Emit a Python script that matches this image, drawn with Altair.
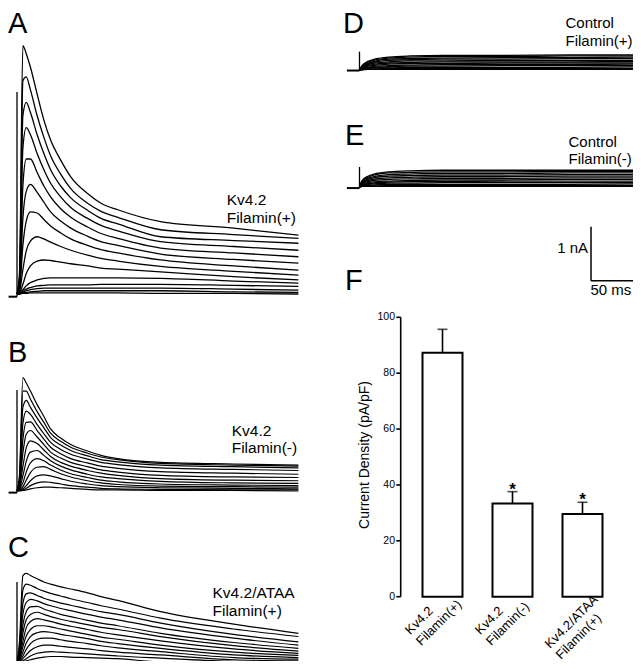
import altair as alt
import pandas as pd

FONT = "Liberation Sans"
OFF = 8          # page margin: image px -> chart px
PX_PER_NA = 54   # vertical trace scale (1 nA)
PX_PER_MS = 0.84 # horizontal trace scale (50 ms = 42 px)

# ---------------- data ----------------
# time grid (ms) for panels A-C
T_ABC = [0, 3, 7, 11, 16, 24, 32, 40, 52, 64, 84, 100, 120, 171, 258, 335]
# currents (nA)
A_TRACES = [
    [0, 0.40, 4.60, 4.45, 4.20, 3.70, 3.22, 2.85, 2.48, 2.17, 1.86, 1.68, 1.56, 1.34, 1.22, 1.09],
    [0, 0.30, 3.95, 4.02, 3.78, 3.30, 2.90, 2.56, 2.22, 1.95, 1.68, 1.53, 1.42, 1.19, 1.10, 1.03],
    [0, 0.25, 3.30, 3.55, 3.36, 2.95, 2.60, 2.30, 2.00, 1.78, 1.55, 1.40, 1.30, 1.06, 0.99, 0.94],
    [0, 0.20, 2.70, 3.08, 2.95, 2.60, 2.30, 2.05, 1.80, 1.60, 1.40, 1.27, 1.17, 0.97, 0.88, 0.81],
    [0, 0.15, 2.00, 2.50, 2.50, 2.25, 2.00, 1.80, 1.58, 1.42, 1.24, 1.12, 1.03, 0.85, 0.76, 0.69],
    [0, 0.10, 1.40, 1.90, 2.03, 1.88, 1.70, 1.52, 1.35, 1.22, 1.07, 0.97, 0.90, 0.74, 0.64, 0.57],
    [0, 0.08, 0.90, 1.35, 1.52, 1.50, 1.38, 1.26, 1.13, 1.02, 0.90, 0.82, 0.76, 0.63, 0.52, 0.44],
    [0, 0.05, 0.45, 0.80, 0.98, 1.06, 1.02, 0.96, 0.88, 0.81, 0.72, 0.66, 0.61, 0.51, 0.42, 0.35],
    [0, 0.03, 0.18, 0.38, 0.52, 0.61, 0.63, 0.62, 0.59, 0.56, 0.52, 0.48, 0.46, 0.41, 0.32, 0.26],
    [0, 0.02, 0.08, 0.15, 0.21, 0.26, 0.29, 0.30, 0.30, 0.30, 0.30, 0.30, 0.30, 0.29, 0.24, 0.20],
    [0, 0.01, 0.05, 0.09, 0.12, 0.15, 0.16, 0.17, 0.17, 0.17, 0.17, 0.18, 0.18, 0.18, 0.16, 0.14],
    [0, 0.01, 0.03, 0.06, 0.08, 0.10, 0.11, 0.11, 0.11, 0.11, 0.11, 0.11, 0.11, 0.11, 0.09, 0.07],
    [0, 0.00, 0.02, 0.03, 0.04, 0.05, 0.06, 0.06, 0.06, 0.06, 0.06, 0.06, 0.06, 0.06, 0.04, 0.03],
    [0, 0.00, 0.01, 0.01, 0.02, 0.02, 0.02, 0.02, 0.02, 0.02, 0.02, 0.02, 0.02, 0.01, 0.01, 0.00],
]
B_TRACES = [
    [0, 0.30, 2.10, 2.00, 1.85, 1.60, 1.38, 1.15, 0.98, 0.86, 0.74, 0.66, 0.60, 0.53, 0.50, 0.48],
    [0, 0.25, 1.85, 1.85, 1.70, 1.47, 1.27, 1.07, 0.92, 0.81, 0.70, 0.63, 0.58, 0.51, 0.48, 0.46],
    [0, 0.20, 1.55, 1.68, 1.55, 1.35, 1.17, 0.99, 0.85, 0.75, 0.65, 0.58, 0.54, 0.48, 0.45, 0.43],
    [0, 0.15, 1.25, 1.48, 1.42, 1.23, 1.06, 0.90, 0.77, 0.68, 0.59, 0.53, 0.49, 0.43, 0.40, 0.38],
    [0, 0.12, 0.95, 1.27, 1.28, 1.12, 0.96, 0.81, 0.69, 0.60, 0.52, 0.46, 0.42, 0.36, 0.33, 0.31],
    [0, 0.10, 0.70, 1.05, 1.12, 1.00, 0.86, 0.72, 0.61, 0.53, 0.45, 0.39, 0.35, 0.29, 0.26, 0.25],
    [0, 0.08, 0.45, 0.80, 0.93, 0.88, 0.76, 0.64, 0.53, 0.46, 0.38, 0.33, 0.29, 0.23, 0.20, 0.19],
    [0, 0.05, 0.28, 0.55, 0.72, 0.75, 0.66, 0.56, 0.46, 0.39, 0.31, 0.26, 0.23, 0.18, 0.15, 0.14],
    [0, 0.04, 0.15, 0.35, 0.52, 0.60, 0.56, 0.48, 0.39, 0.32, 0.25, 0.20, 0.17, 0.13, 0.11, 0.10],
    [0, 0.03, 0.08, 0.20, 0.34, 0.44, 0.45, 0.40, 0.32, 0.26, 0.19, 0.15, 0.12, 0.09, 0.08, 0.07],
    [0, 0.02, 0.04, 0.10, 0.19, 0.28, 0.30, 0.28, 0.23, 0.18, 0.13, 0.10, 0.08, 0.06, 0.05, 0.04],
    [0, 0.01, 0.02, 0.05, 0.10, 0.15, 0.17, 0.16, 0.13, 0.10, 0.07, 0.05, 0.04, 0.03, 0.02, 0.02],
    [0, 0.00, 0.01, 0.02, 0.04, 0.06, 0.07, 0.07, 0.06, 0.05, 0.03, 0.02, 0.02, 0.01, 0.01, 0.00],
]
C_TRACES = [
    [0, 0.40, 1.62, 1.66, 1.62, 1.56, 1.50, 1.46, 1.41, 1.37, 1.30, 1.23, 1.16, 0.95, 0.72, 0.55],
    [0, 0.30, 1.35, 1.46, 1.44, 1.38, 1.33, 1.29, 1.24, 1.19, 1.12, 1.06, 1.00, 0.83, 0.63, 0.49],
    [0, 0.25, 1.10, 1.28, 1.30, 1.25, 1.20, 1.16, 1.11, 1.07, 1.00, 0.95, 0.90, 0.74, 0.53, 0.39],
    [0, 0.20, 0.90, 1.12, 1.18, 1.15, 1.10, 1.06, 1.01, 0.97, 0.90, 0.85, 0.80, 0.65, 0.46, 0.33],
    [0, 0.15, 0.70, 0.95, 1.04, 1.05, 1.00, 0.96, 0.90, 0.86, 0.79, 0.74, 0.69, 0.55, 0.38, 0.27],
    [0, 0.12, 0.55, 0.80, 0.90, 0.94, 0.90, 0.86, 0.81, 0.77, 0.71, 0.66, 0.62, 0.49, 0.32, 0.22],
    [0, 0.10, 0.40, 0.65, 0.77, 0.82, 0.80, 0.77, 0.72, 0.68, 0.62, 0.57, 0.52, 0.41, 0.26, 0.18],
    [0, 0.07, 0.30, 0.50, 0.62, 0.69, 0.69, 0.67, 0.63, 0.59, 0.53, 0.48, 0.44, 0.33, 0.20, 0.14],
    [0, 0.05, 0.20, 0.37, 0.49, 0.56, 0.58, 0.57, 0.53, 0.50, 0.45, 0.40, 0.36, 0.27, 0.15, 0.10],
    [0, 0.04, 0.13, 0.25, 0.36, 0.44, 0.46, 0.46, 0.43, 0.40, 0.36, 0.32, 0.28, 0.21, 0.10, 0.07],
    [0, 0.03, 0.08, 0.15, 0.23, 0.30, 0.33, 0.33, 0.31, 0.29, 0.26, 0.23, 0.20, 0.15, 0.06, 0.04],
    [0, 0.02, 0.04, 0.08, 0.13, 0.18, 0.20, 0.21, 0.20, 0.19, 0.17, 0.15, 0.13, 0.09, 0.03, 0.02],
    [0, 0.01, 0.02, 0.04, 0.06, 0.09, 0.11, 0.12, 0.12, 0.11, 0.10, 0.09, 0.08, 0.02, 0.01, 0.00],
]
# time grid (ms) for control panels D-E
T_DE = [0, 3, 10, 20, 35, 60, 100, 170, 250, 332]
D_TRACES = [
    [0, 0.08, 0.16, 0.21, 0.24, 0.26, 0.27, 0.27, 0.28, 0.28],
    [0, 0.07, 0.14, 0.19, 0.22, 0.24, 0.25, 0.25, 0.26, 0.26],
    [0, 0.06, 0.12, 0.17, 0.20, 0.21, 0.22, 0.23, 0.23, 0.24],
    [0, 0.05, 0.11, 0.15, 0.18, 0.19, 0.20, 0.20, 0.21, 0.21],
    [0, 0.05, 0.10, 0.13, 0.15, 0.17, 0.17, 0.18, 0.18, 0.18],
    [0, 0.04, 0.08, 0.11, 0.13, 0.14, 0.15, 0.15, 0.15, 0.16],
    [0, 0.04, 0.07, 0.09, 0.11, 0.12, 0.12, 0.13, 0.13, 0.13],
    [0, 0.03, 0.05, 0.07, 0.08, 0.09, 0.10, 0.10, 0.10, 0.11],
    [0, 0.02, 0.04, 0.05, 0.06, 0.07, 0.07, 0.08, 0.08, 0.08],
    [0, 0.02, 0.03, 0.04, 0.04, 0.05, 0.05, 0.05, 0.05, 0.06],
    [0, 0.01, 0.02, 0.02, 0.03, 0.03, 0.03, 0.03, 0.03, 0.03],
    [0, 0.00, 0.01, 0.01, 0.01, 0.01, 0.01, 0.01, 0.01, 0.01],
]
E_TRACES = [
    [0, 0.12, 0.20, 0.25, 0.28, 0.30, 0.31, 0.31, 0.31, 0.31],
    [0, 0.10, 0.18, 0.23, 0.26, 0.27, 0.28, 0.28, 0.29, 0.29],
    [0, 0.09, 0.16, 0.20, 0.23, 0.24, 0.25, 0.25, 0.26, 0.26],
    [0, 0.08, 0.14, 0.18, 0.20, 0.21, 0.22, 0.22, 0.23, 0.23],
    [0, 0.07, 0.12, 0.15, 0.17, 0.18, 0.19, 0.19, 0.20, 0.20],
    [0, 0.06, 0.10, 0.13, 0.14, 0.15, 0.16, 0.16, 0.17, 0.17],
    [0, 0.05, 0.08, 0.10, 0.11, 0.12, 0.13, 0.13, 0.14, 0.14],
    [0, 0.04, 0.06, 0.08, 0.09, 0.10, 0.10, 0.11, 0.11, 0.11],
    [0, 0.03, 0.05, 0.06, 0.07, 0.07, 0.08, 0.08, 0.08, 0.08],
    [0, 0.02, 0.03, 0.04, 0.05, 0.05, 0.05, 0.05, 0.05, 0.06],
    [0, 0.01, 0.02, 0.02, 0.03, 0.03, 0.03, 0.03, 0.03, 0.03],
    [0, 0.01, 0.01, 0.01, 0.01, 0.01, 0.01, 0.01, 0.01, 0.01],
]
# holding level (nA), holding start (ms) and capacitive spike peak (nA) per panel
HOLD_I = {"A": -0.05, "B": -0.03, "C": -0.04, "D": -0.01, "E": -0.02}
HOLD_T = {"A": -10, "B": -10, "C": -10, "D": -15, "E": -15}
SPIKE_I = {"A": 3.74, "B": 1.87, "C": 1.5, "D": 0.34, "E": 0.37}

# scale bar
SCALE_MS = 50
SCALE_NA = 1

# panel F
GROUPS = ["Kv4.2 Filamin(+)", "Kv4.2 Filamin(-)", "Kv4.2/ATAA Filamin(+)"]
GROUP_LABELS = ["Kv4.2\nFilamin(+)", "Kv4.2\nFilamin(-)", "Kv4.2/ATAA\nFilamin(+)"]
MEANS = [87.3, 33.4, 29.6]
SEMS = [8.4, 4.2, 4.2]
SIG = ["", "*", "*"]
Y_TICKS = [0, 20, 40, 60, 80, 100]
Y_TITLE = "Current Density (pA/pF)"

PANEL_LETTERS = ["A", "B", "C", "D", "E", "F"]
PANEL_NOTES = ["Kv4.2\nFilamin(+)", "Kv4.2\nFilamin(-)", "Kv4.2/ATAA\nFilamin(+)",
               "Control\nFilamin(+)", "Control\nFilamin(-)"]
SCALE_TEXT = ["1 nA", "50 ms"]

# ---------------- layout (image px) ----------------
def px(v):
    return v - OFF

# panel: (t=0 x position, baseline y, end time)
PANEL_POS = {
    "A": (17.0, 294.0, 335),
    "B": (17.0, 491.0, 335),
    "C": (17.0, 663.0, 335),
    "D": (359.5, 70.0, 332),
    "E": (359.5, 187.0, 332),
}


def traces_df(times, rows):
    recs = []
    for k, vals in enumerate(rows):
        for t, v in zip(times, vals):
            recs.append({"trace": k, "t": t, "I": v})
    return pd.DataFrame(recs)


def trace_panel(name, times, rows, stroke):
    x0, base, tend = PANEL_POS[name]
    tstart = HOLD_T[name]
    xs = alt.Scale(domain=[tstart, tend],
                   range=[px(x0 + tstart * PX_PER_MS), px(x0 + tend * PX_PER_MS)],
                   nice=False, zero=False)
    ys = alt.Scale(domain=[0, 5], range=[px(base), px(base - 5 * PX_PER_NA)],
                   nice=False, zero=False)
    df = traces_df(times, rows)
    lines = alt.Chart(df).mark_line(color="black", strokeWidth=stroke,
                                    interpolate="monotone").encode(
        x=alt.X("t:Q", scale=xs, axis=None),
        y=alt.Y("I:Q", scale=ys, axis=None),
        detail="trace:N",
    )
    hold_df = pd.DataFrame({"t0": [tstart], "t1": [0], "I": [HOLD_I[name]]})
    hold = alt.Chart(hold_df).mark_rule(color="black", strokeWidth=2).encode(
        x=alt.X("t0:Q", scale=xs, axis=None), x2="t1:Q",
        y=alt.Y("I:Q", scale=ys, axis=None),
    )
    spike_df = pd.DataFrame({"t": [0], "I0": [HOLD_I[name]], "I1": [SPIKE_I[name]]})
    spike = alt.Chart(spike_df).mark_rule(color="black", strokeWidth=1.3).encode(
        x=alt.X("t:Q", scale=xs, axis=None),
        y=alt.Y("I0:Q", scale=ys, axis=None), y2="I1:Q",
    )
    return [lines, hold, spike]


def text_layer(s, x, y, size, align="left", weight="normal", line_height=17):
    return alt.Chart(pd.DataFrame({"s": [s]})).mark_text(
        align=align, baseline="alphabetic", font=FONT, fontSize=size,
        fontWeight=weight, color="black", lineBreak="\n", lineHeight=line_height,
    ).encode(x=alt.value(px(x)), y=alt.value(px(y)), text="s:N")


layers = []
layers += trace_panel("A", T_ABC, A_TRACES, 1.3)
layers += trace_panel("B", T_ABC, B_TRACES, 1.2)
layers += trace_panel("C", T_ABC, C_TRACES, 1.2)
layers += trace_panel("D", T_DE, D_TRACES, 1.3)
layers += trace_panel("E", T_DE, E_TRACES, 1.3)

# panel letters
LETTER_POS = [(8, 33), (8, 362), (8, 557), (343, 33), (345, 145), (345, 290)]
for letter, (lx, ly) in zip(PANEL_LETTERS, LETTER_POS):
    layers.append(text_layer(letter, lx, ly, 29))

# panel notes
NOTE_POS = [(226.7, 205, 15.5), (231.7, 435.5, 15.5), (212.5, 598.3, 15.5),
            (565.5, 28.3, 15), (568.5, 146.5, 15)]
for note, (nx, ny, fs) in zip(PANEL_NOTES, NOTE_POS):
    layers.append(text_layer(note, nx, ny, fs, line_height=17.5))

# scale bar (vertical bar at x=591 image px)
SB_X, SB_Y = 591.0, 280.7
sb_x = alt.Scale(domain=[0, SCALE_MS], range=[px(SB_X), px(SB_X + SCALE_MS * PX_PER_MS)],
                 nice=False, zero=False)
sb_y = alt.Scale(domain=[0, SCALE_NA], range=[px(SB_Y), px(SB_Y - SCALE_NA * PX_PER_NA)],
                 nice=False, zero=False)
sb_df = pd.DataFrame({"x0": [0, 0], "x1": [SCALE_MS, 0], "y0": [0, 0], "y1": [0, SCALE_NA]})
layers.append(alt.Chart(sb_df).mark_rule(color="black", strokeWidth=1.5).encode(
    x=alt.X("x0:Q", scale=sb_x, axis=None), x2="x1:Q",
    y=alt.Y("y0:Q", scale=sb_y, axis=None), y2="y1:Q",
))
layers.append(text_layer(SCALE_TEXT[0], SB_X - 3, 253, 15, align="right"))
layers.append(text_layer(SCALE_TEXT[1], SB_X - 0.5, 295, 15))

# ---------------- panel F ----------------
f_df = pd.DataFrame({"group": GROUPS, "label": GROUP_LABELS, "mean": MEANS,
                     "sem": SEMS, "sig": SIG})
f_df["upper"] = f_df["mean"] + f_df["sem"]
f_df["base"] = 0
fx = alt.Scale(domain=GROUPS, range=[px(407.5), px(617.5)],
               paddingInner=0.4286, paddingOuter=0.2143)
fy = alt.Scale(domain=[0, 100], range=[px(596.7), px(317.3)], nice=False, zero=False)
FX = alt.X("group:N", scale=fx, axis=None, sort=GROUPS)

layers.append(alt.Chart(f_df).mark_bar(fill="white", stroke="black", strokeWidth=2).encode(
    x=FX, y=alt.Y("mean:Q", scale=fy, axis=None), y2="base:Q"))
layers.append(alt.Chart(f_df).mark_rule(color="black", strokeWidth=1.6).encode(
    x=FX, y=alt.Y("mean:Q", scale=fy, axis=None), y2="upper:Q"))
layers.append(alt.Chart(f_df).mark_tick(color="black", orient="horizontal", size=10,
                                        thickness=1.6).encode(
    x=FX, y=alt.Y("upper:Q", scale=fy, axis=None)))
layers.append(alt.Chart(f_df).mark_text(font=FONT, fontSize=17, fontWeight="bold",
                                        baseline="alphabetic", dy=3, color="black").encode(
    x=FX, y=alt.Y("upper:Q", scale=fy, axis=None), text="sig:N"))

# y axis drawn through the F scale
ax_df = pd.DataFrame({"lo": [Y_TICKS[0]], "hi": [Y_TICKS[-1]]})
layers.append(alt.Chart(ax_df).mark_rule(color="black", strokeWidth=1.6).encode(
    x=alt.value(px(400.7)), y=alt.Y("lo:Q", scale=fy, axis=None), y2="hi:Q"))
tick_df = pd.DataFrame({"v": Y_TICKS})
layers.append(alt.Chart(tick_df).mark_rule(color="black", strokeWidth=1.6).encode(
    x=alt.value(px(396.3)), x2=alt.value(px(400.7)),
    y=alt.Y("v:Q", scale=fy, axis=None)))
layers.append(alt.Chart(tick_df).mark_text(font=FONT, fontSize=10.5, align="right",
                                           baseline="middle", color="black").encode(
    x=alt.value(px(395)), y=alt.Y("v:Q", scale=fy, axis=None), text="v:N"))
layers.append(alt.Chart(pd.DataFrame({"s": [Y_TITLE]})).mark_text(
    font=FONT, fontSize=14, angle=270, align="center", baseline="middle",
    color="black").encode(x=alt.value(px(365)), y=alt.value(px(455)), text="s:N"))

# rotated category labels
lab12 = f_df[f_df["group"] != GROUPS[2]]
lab3 = f_df[f_df["group"] == GROUPS[2]]
for sub, ddx, ddy in [(lab12, -50, 4.5), (lab3, -60, 14)]:
    layers.append(alt.Chart(sub).mark_text(
        font=FONT, fontSize=13, angle=315, align="left", baseline="alphabetic",
        lineBreak="\n", lineHeight=15.5, dx=ddx, dy=ddy, color="black").encode(
        x=FX, y=alt.Y("base:Q", scale=fy, axis=None), text="label:N"))

chart = alt.layer(*layers).resolve_scale(x="independent", y="independent").properties(
    width=625, height=653, autosize=alt.AutoSizeParams(type="none"), padding=0,
    background="white",
).configure_view(stroke=None)

chart.save("out.html", embed_options={"renderer": "svg", "actions": False})
